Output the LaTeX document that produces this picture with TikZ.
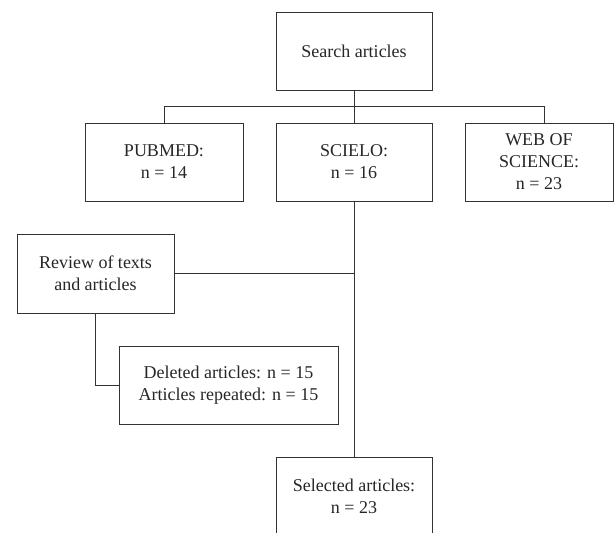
\documentclass[tikz,border=0pt]{standalone}
\usepackage{fontspec}
\setmainfont{Liberation Serif}
\begin{document}
\begin{tikzpicture}[x=1pt,y=-1pt,
  box/.style={draw=black!80, line width=1pt, rectangle, inner sep=0pt, align=center,
    font=\fontsize{18}{22}\selectfont, text=black!85},
  link/.style={draw=black!80, line width=1pt}]
\useasboundingbox (0,0) rectangle (614,533);
\clip (0,0) rectangle (614,533);
\node[box, minimum width=156pt, minimum height=78pt] (search) at (354,51) {Search articles};
\node[box, minimum width=158pt, minimum height=78pt] (pubmed) at (164,162) {PUBMED:\\n = 14};
\node[box, minimum width=156pt, minimum height=78pt] (scielo) at (354,162) {SCIELO:\\n = 16};
\node[box, minimum width=148pt, minimum height=78pt] (web) at (539,162) {WEB OF\\SCIENCE:\\n = 23};
\node[box, minimum width=157pt, minimum height=79pt] (review) at (95.5,273.5) {Review of texts\\and articles};
\node[box, minimum width=219pt, minimum height=78pt] (deleted) at (228.5,385) {Deleted articles: n = 15\\Articles repeated: n = 15};
\node[box, minimum width=156pt, minimum height=78pt] (selected) at (354,496) {Selected articles:\\n = 23};
\coordinate (webtop) at (544,123);
\draw[link] (search) -- (scielo);
\draw[link] (pubmed.north) -- ++(0,-16) -| (webtop);
\draw[link] (scielo) -- (selected);
\draw[link] (review.east) -- (review.east -| scielo.south);
\draw[link] (review.south) |- (deleted.west);
\end{tikzpicture}
\end{document}
